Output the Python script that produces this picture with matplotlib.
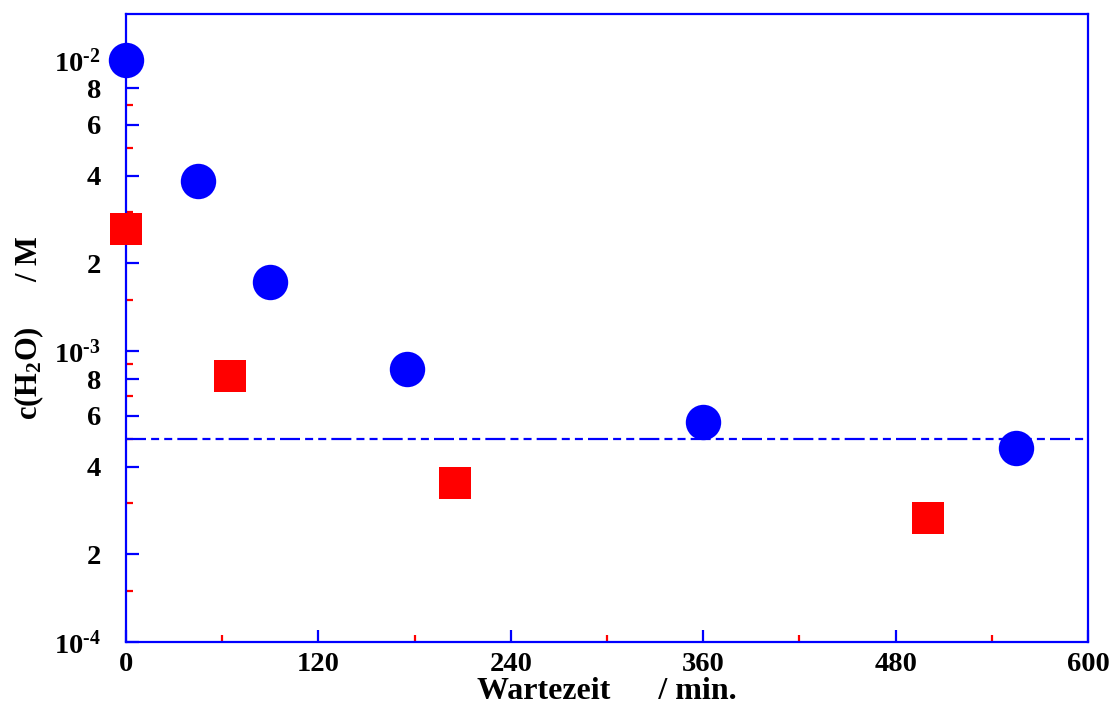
import matplotlib
matplotlib.use("Agg")
import matplotlib.pyplot as plt
from matplotlib.ticker import FixedLocator, FixedFormatter

plt.rcParams['font.family'] = ['Liberation Serif', 'DejaVu Serif']
plt.rcParams['font.weight'] = 'bold'
plt.rcParams['mathtext.fontset'] = 'custom'
plt.rcParams['mathtext.rm'] = 'Liberation Serif:bold'
plt.rcParams['mathtext.it'] = 'Liberation Serif:bold'
plt.rcParams['mathtext.bf'] = 'Liberation Serif:bold'
plt.rcParams['mathtext.default'] = 'rm'

# Messreihe 1 (Kreise) und Messreihe 2 (Quadrate)
t_kreis = [0, 45, 90, 175, 360, 555]
c_kreis = [1.0e-2, 3.85e-3, 1.73e-3, 8.7e-4, 5.7e-4, 4.65e-4]
t_quadrat = [0, 65, 205, 500]
c_quadrat = [2.62e-3, 8.2e-4, 3.52e-4, 2.67e-4]
grenzwert = 5e-4

y_major = [1e-4, 2e-4, 4e-4, 6e-4, 8e-4, 1e-3, 2e-3, 4e-3, 6e-3, 8e-3, 1e-2]
y_labels = ['10$^{\u20104}$', '2', '4', '6', '8', '10$^{\u20103}$',
            '2', '4', '6', '8', '10$^{\u20102}$']
y_minor = [1.5e-4, 3e-4, 5e-4, 7e-4, 9e-4, 1.5e-3, 3e-3, 5e-3, 7e-3, 9e-3]
x_major = [0, 120, 240, 360, 480, 600]
x_minor = [60, 180, 300, 420, 540]

blau = '#0000ff'
rot = '#ff0000'

fig = plt.figure(figsize=(11.14, 7.05), dpi=100)
ax = fig.add_axes([0.1131, 0.0894, 0.8636, 0.8907])

ax.set_yscale('log')
ax.set_xlim(0, 600)
ax.set_ylim(1e-4, 1.44e-2)

ax.plot([0, 600], [grenzwert, grenzwert], color=blau, lw=1.6,
        dashes=(9.0, 2.3, 3.6, 2.3, 3.6, 2.3), zorder=2)
ax.plot(t_kreis, c_kreis, 'o', color=blau, ms=25.5, mew=0, clip_on=False, zorder=5)
ax.plot(t_quadrat, c_quadrat, 's', color=rot, ms=23.5, mew=0, clip_on=False, zorder=5)

for s in ax.spines.values():
    s.set_color(blau)
    s.set_linewidth(1.6)

ax.yaxis.set_major_locator(FixedLocator(y_major))
ax.yaxis.set_major_formatter(FixedFormatter(y_labels))
ax.yaxis.set_minor_locator(FixedLocator(y_minor))
ax.yaxis.set_minor_formatter(FixedFormatter([''] * len(y_minor)))
ax.xaxis.set_major_locator(FixedLocator(x_major))
ax.xaxis.set_minor_locator(FixedLocator(x_minor))

ax.tick_params(which='major', direction='in', length=9, width=1.6, color=blau,
               labelsize=20.5, labelcolor='black')
ax.tick_params(which='minor', direction='in', length=5, width=1.6, color=rot)
ax.tick_params(axis='y', which='both', pad=18)
ax.tick_params(axis='x', which='both', pad=7)

ax.set_xlabel('Wartezeit      / min.', fontsize=23, fontweight='bold', labelpad=0)
ax.set_ylabel('c(H$_2$O)      / M', fontsize=22, fontweight='bold', labelpad=6)

fig.savefig('out.png', dpi=100)
